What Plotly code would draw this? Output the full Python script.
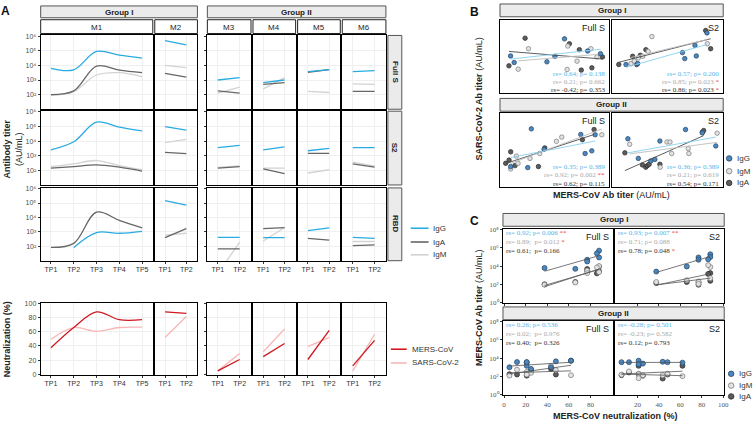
import numpy as np
import plotly.graph_objects as go

W, H = 755, 426
SANS = "Liberation Sans"
SERIF = "Liberation Serif"

# ---------------- Panel A data (antibody titers, AU/mL) ----------------
TP_M1 = ["TP1", "TP2", "TP3", "TP4", "TP5"]
TP_OTHER = ["TP1", "TP2"]
MICE = ["M1", "M2", "M3", "M4", "M5", "M6"]
ANTIGENS = ["Full S", "S2", "RBD"]

fullS_IgG = {"M1": [6300, 5000, 90000, 50000, 32000], "M2": [500000, 250000], "M3": [1000, 1450],
             "M4": [660, 1000], "M5": [3700, 5200], "M6": [3700, 4400]}
fullS_IgA = {"M1": [100, 180, 9000, 4800, 3200], "M2": [2800, 1600], "M3": [180, 125],
             "M4": [500, 660], "M5": [3300, 5200], "M6": [165, 165]}
fullS_IgM = {"M1": [90, 160, 2200, 3200, 1700], "M2": [10000, 7000], "M3": [125, 320],
             "M4": [250, 1450], "M5": [165, 140], "M6": [550, 500]}

S2_IgG = {"M1": [2500, 9000, 200000, 90000, 50000], "M2": [100000, 56000], "M3": [3600, 5200],
          "M4": [2500, 4000], "M5": [2200, 3200], "M6": [3600, 3600]}
S2_IgA = {"M1": [140, 180, 240, 165, 90], "M2": [1700, 1400], "M3": [140, 180],
          "M4": [125, 60], "M5": [1450, 1450], "M6": [275, 165]}
S2_IgM = {"M1": [180, 280, 470, 210, 110], "M2": [8000, 13000], "M3": [160, 200],
          "M4": [140, 140], "M5": [66, 110], "M6": [360, 195]}

RBD_IgG = {"M1": [None, 83, 900, 800, 1100], "M2": [145000, 72000], "M3": [420, 420],
           "M4": [400, 400], "M5": [1200, 1900], "M6": [420, 355]}
RBD_IgA = {"M1": [83, 160, 23000, 6300, 1900], "M2": [400, 1700], "M3": [66, 66],
           "M4": [1700, 2000], "M5": [355, 270], "M6": [112, 125]}
RBD_IgM = {"M1": [None, None, None, None, None], "M2": [600, 800], "M3": [1.3, 190],
           "M4": [235, 2000], "M5": [None, None], "M6": [215, 215]}

# neutralization (%)
neut_MERS = {"M1": [37.5, 66, 88, 77, 77], "M2": [88, 86], "M3": [5, 21],
             "M4": [25, 43.5], "M5": [21, 62], "M6": [12, 48]}
neut_SARS = {"M1": [49.5, 66, 60.6, 66, 66.5], "M2": [52, 81.5], "M3": [5, 29.6],
             "M4": [32, 64], "M5": [39, 52], "M6": [5, 56.5]}

# ---------------- Panel B data (relative positions, arbitrary units) ----------------
b_g1_fullS_x = {"IgG": [9.7, 13.0, 43.0, 50.3, 59.1, 80.3, 92.1],
                "IgM": [16.7, 26.1, 61.5, 62.1, 70.6, 83.3, 88.8],
                "IgA": [8.2, 23.0, 63.6, 72.7, 74.5, 84.2, 93.9]}
b_g1_fullS_y = {"IgG": [50.9, 42.0, 42.9, 50.4, 74.1, 57.6, 54.0],
                "IgM": [33.0, 60.7, 32.6, 64.3, 43.8, 60.7, 49.6],
                "IgA": [37.5, 75.0, 67.4, 59.4, 31.7, 34.8, 49.6]}
b_g1_S2_x = {"IgG": [12.5, 23.0, 63.3, 65.4, 74.6, 75.8, 85.4],
             "IgM": [17.0, 20.0, 23.6, 27.5, 32.5, 35.8, 85.7],
             "IgA": [6.0, 18.5, 22.1, 25.4, 30.4, 84.2, 88.7]}
b_g1_S2_y = {"IgG": [39.3, 40.6, 55.4, 47.3, 65.2, 50.9, 82.1],
             "IgM": [40.6, 44.0, 48.2, 50.4, 57.1, 77.2, 67.4],
             "IgA": [39.3, 50.4, 39.3, 51.8, 59.4, 85.3, 60.7]}
b_g2_fullS_x = {"IgG": [9.8, 25.4, 28.7, 40.4, 74.0, 78.0, 84.1, 87.2],
                "IgM": [9.8, 15.0, 16.5, 27.5, 36.4, 51.7, 56.6, 93.3],
                "IgA": [5.2, 8.3, 9.8, 13.8, 35.2, 41.0, 75.5, 86.2]}
b_g2_fullS_y = {"IgG": [27.6, 26.2, 78.7, 51.1, 71.1, 45.3, 48.9, 70.7],
                "IgM": [24.4, 41.8, 32.0, 38.7, 45.3, 61.8, 67.6, 70.7],
                "IgA": [32.0, 36.4, 47.6, 28.9, 27.6, 52.9, 64.0, 77.8]}
b_g2_S2_x = {"IgG": [14.2, 23.6, 34.8, 38.5, 43.0, 66.1, 81.2, 93.3],
             "IgM": [15.8, 43.3, 49.4, 52.1, 53.6, 68.5, 69.1, 94.5],
             "IgA": [11.5, 27.3, 30.3, 31.8, 33.3, 43.0, 81.2, 82.4]}
b_g2_S2_y = {"IgG": [65.3, 38.7, 35.1, 37.3, 62.2, 77.8, 73.3, 55.6],
             "IgM": [57.8, 26.7, 60.9, 60.9, 45.3, 52.0, 45.3, 72.9],
             "IgA": [46.2, 29.8, 26.7, 28.9, 30.7, 30.7, 74.2, 76.4]}

b_g1_fullS_stats = ["rs= 0.64; p= 0.138", "rs= 0.21; p= 0.662", "rs= -0.42; p= 0.353"]
b_g1_fullS_sig = ["", "", ""]
b_g1_S2_stats = ["rs= 0.57; p= 0.200", "rs= 0.85; p= 0.023", "rs= 0.86; p= 0.023"]
b_g1_S2_sig = ["", "*", "*"]
b_g2_fullS_stats = ["rs= 0.35; p= 0.389", "rs= 0.92; p= 0.002", "rs= 0.62; p= 0.115"]
b_g2_fullS_sig = ["", "**", ""]
b_g2_S2_stats = ["rs= 0.36; p= 0.389", "rs= 0.21; p= 0.619", "rs= 0.54; p= 0.171"]
b_g2_S2_sig = ["", "", ""]

c_g1_fullS_stats = ["rs= 0.92; p= 0.006", "rs= 0.89;  p= 0.012", "rs= 0.61;  p= 0.166"]
c_g1_fullS_sig = ["**", "*", ""]
c_g1_S2_stats = ["rs= 0.93; p= 0.007", "rs= 0.71; p= 0.088", "rs= 0.78; p= 0.048"]
c_g1_S2_sig = ["**", "", "*"]
c_g2_fullS_stats = ["rs= 0.26; p= 0.536", "rs= 0.02;  p= 0.976", "rs= 0.40;  p= 0.326"]
c_g2_fullS_sig = ["", "", ""]
c_g2_S2_stats = ["rs= -0.28; p= 0.501", "rs= -0.23; p= 0.582", "rs= 0.12; p= 0.793"]
c_g2_S2_sig = ["", "", ""]

# ---------------- styling ----------------
C_LINE = {"IgG": "#29abe2", "IgA": "#666666", "IgM": "#d2d2d2"}
C_MERS, C_SARS = "#cf1820", "#f7b7b7"
PT_FILL = {"IgG": "#4b88c2", "IgM": "#e2e2e2", "IgA": "#5c5c5c"}
PT_EDGE = {"IgG": "#24425f", "IgM": "#7a7a7a", "IgA": "#2b2b2b"}
FIT_B = {"IgG": "#86d0ee", "IgM": "#bdbdbd", "IgA": "#4a4a4a"}
STAT_C = {"IgG": "#56b4e9", "IgM": "#a9a9a9", "IgA": "#333333"}
STAR_C = "#e8473f"
GRID = "#efefef"
STRIP_FILL = "#ebebeb"
SUPS = {0: "\u2070", 2: "\u00b2", 3: "\u00b3", 4: "\u2074", 5: "\u2075", 6: "\u2076", 8: "\u2078"}

layout = dict(width=W, height=H, margin=dict(l=0, r=0, t=0, b=0),
              paper_bgcolor="white", plot_bgcolor="white", showlegend=False,
              font=dict(family=SANS, color="#222", size=8), shapes=[], annotations=[])
traces = []
_n = [0]


def new_axes(px0, px1, py0, py1, xkw, ykw):
    _n[0] += 1
    s = "" if _n[0] == 1 else str(_n[0])
    base = dict(showline=True, mirror=True, linecolor="black", linewidth=1,
                zeroline=False, showgrid=False, ticks="", showticklabels=False, fixedrange=True)
    xa = dict(base, domain=[px0 / W, px1 / W], anchor="y" + s)
    xa.update(xkw)
    ya = dict(base, domain=[1 - py1 / H, 1 - py0 / H], anchor="x" + s)
    ya.update(ykw)
    layout["xaxis" + s] = xa
    layout["yaxis" + s] = ya
    return "x" + s, "y" + s


def text(px, py, s, size=8, color="#222", xanchor="center", yanchor="middle", angle=0, family=SANS):
    layout["annotations"].append(dict(x=px / W, y=1 - py / H, xref="paper", yref="paper", text=s,
                                      showarrow=False, font=dict(size=size, color=color, family=family),
                                      xanchor=xanchor, yanchor=yanchor, textangle=angle, borderpad=0))


def rect(px0, py0, px1, py1, fill, line="#555", lw=1):
    layout["shapes"].append(dict(type="rect", xref="paper", yref="paper", x0=px0 / W, x1=px1 / W,
                                 y0=1 - py1 / H, y1=1 - py0 / H, fillcolor=fill,
                                 line=dict(color=line, width=lw), layer="above"))


def hline(px0, px1, py, color, width):
    layout["shapes"].append(dict(type="line", xref="paper", yref="paper", x0=px0 / W, x1=px1 / W,
                                 y0=1 - py / H, y1=1 - py / H, line=dict(color=color, width=width)))


def dot(px, py, fill, edge, r=2.6):
    layout["shapes"].append(dict(type="circle", xref="paper", yref="paper", x0=(px - r) / W, x1=(px + r) / W,
                                 y0=1 - (py + r) / H, y1=1 - (py - r) / H, fillcolor=fill,
                                 line=dict(color=edge, width=0.8)))


def sup(e):
    return "10" + SUPS[e]


# ================= PANEL A =================
A_cols = {"M1": (40, 153), "M2": (155, 198), "M3": (208, 252), "M4": (254, 297), "M5": (299, 342), "M6": (344, 388)}
A_rows = {"Full S": (33, 108), "S2": (110, 185), "RBD": (188, 262)}
A_neut = (305, 378)
A_data = {"Full S": {"IgG": fullS_IgG, "IgA": fullS_IgA, "IgM": fullS_IgM},
          "S2": {"IgG": S2_IgG, "IgA": S2_IgA, "IgM": S2_IgM},
          "RBD": {"IgG": RBD_IgG, "IgA": RBD_IgA, "IgM": RBD_IgM}}

TPFONT = dict(size=7, color="#333", family=SANS)
YFONT = dict(size=7, color="#4d4d4d", family=SANS)

for ant in ANTIGENS:
    r0, r1 = A_rows[ant]
    for m in MICE:
        c0, c1 = A_cols[m]
        cats = TP_M1 if m == "M1" else TP_OTHER
        xs = list(range(len(cats)))
        xr = [-0.45, 4.47] if m == "M1" else [-0.48, 1.52]
        bottom = ant == "RBD"
        xa = dict(range=xr, tickvals=xs, ticktext=cats, showticklabels=bottom, showgrid=True,
                  gridcolor=GRID, gridwidth=0.6, ticks="outside" if bottom else "", ticklen=2,
                  tickcolor="#333", tickfont=TPFONT)
        ya = dict(type="log", range=[1, 6.05], tickvals=[10 ** e for e in range(2, 7)],
                  ticktext=[sup(e) for e in range(2, 7)], showticklabels=(m == "M1"), showgrid=True,
                  gridcolor=GRID, gridwidth=0.6, ticks="outside" if m in ("M1", "M3") else "",
                  ticklen=2, tickcolor="#333", tickfont=YFONT)
        xa_id, ya_id = new_axes(c0, c1, r0, r1, xa, ya)
        for iso in ["IgM", "IgA", "IgG"]:
            traces.append(go.Scatter(x=xs, y=A_data[ant][iso][m], mode="lines", xaxis=xa_id, yaxis=ya_id,
                                     line=dict(color=C_LINE[iso], width=1.3,
                                               shape="spline" if m == "M1" else "linear", smoothing=1.0),
                                     hoverinfo="skip"))

for m in MICE:
    c0, c1 = A_cols[m]
    cats = TP_M1 if m == "M1" else TP_OTHER
    xs = list(range(len(cats)))
    xr = [-0.45, 4.47] if m == "M1" else [-0.48, 1.52]
    xa = dict(range=xr, tickvals=xs, ticktext=cats, showticklabels=True, showgrid=True, gridcolor=GRID,
              gridwidth=0.6, ticks="outside", ticklen=2, tickcolor="#333", tickfont=TPFONT)
    ya = dict(range=[-0.5, 100.5], tickvals=[0, 20, 40, 60, 80, 100], showticklabels=(m == "M1"),
              showgrid=True, gridcolor=GRID, gridwidth=0.6, ticks="outside" if m in ("M1", "M3") else "",
              ticklen=2, tickcolor="#333", tickfont=dict(size=7, color="#4d4d4d", family=SANS))
    xa_id, ya_id = new_axes(c0, c1, A_neut[0], A_neut[1], xa, ya)
    for vals, col in [(neut_SARS, C_SARS), (neut_MERS, C_MERS)]:
        traces.append(go.Scatter(x=xs, y=vals[m], mode="lines", xaxis=xa_id, yaxis=ya_id,
                                 line=dict(color=col, width=1.3, shape="spline" if m == "M1" else "linear"),
                                 hoverinfo="skip"))

# strips A
rect(40, 3, 198, 15, STRIP_FILL, "#555")
text(119, 9.5, "<b>Group I</b>", 8)
rect(208, 3, 388, 15, STRIP_FILL, "#555")
text(298, 9.5, "<b>Group II</b>", 8)
for m in MICE:
    c0, c1 = A_cols[m]
    rect(c0, 17, c1, 31, "white", "#222")
    text((c0 + c1) / 2, 24.5, m, 8)
for ant in ANTIGENS:
    r0, r1 = A_rows[ant]
    rect(390, r0, 404, r1, STRIP_FILL, "#555")
    text(397.5, (r0 + r1) / 2, "<b>%s</b>" % ant, 8, angle=90)

text(5, 8, "<b>A</b>", 12, color="#111")
text(12, 148, "<b>Antibody titer</b><br>(AU/mL)", 9, angle=-90)
text(6, 342, "<b>Neutralization (%)</b>", 9, angle=-90)

for iso, py in [("IgG", 229), ("IgA", 243), ("IgM", 256)]:
    hline(413, 431, py, C_LINE[iso], 1.6)
    text(434, py, iso, 8, color="#333", xanchor="left")
for lab, col, py in [("MERS-CoV", C_MERS, 352), ("SARS-CoV-2", C_SARS, 366)]:
    hline(393, 409, py, col, 1.6)
    text(413, py, lab, 8, color="#333", xanchor="left")


# ================= PANEL B =================
def star_text(s, sig):
    return s + (" <span style='color:%s'>%s</span>" % (STAR_C, sig) if sig else "")


B_panels = [
    ((503, 613, 17, 92), b_g1_fullS_x, b_g1_fullS_y, "Full S", b_g1_fullS_stats, b_g1_fullS_sig),
    ((616, 728, 17, 92), b_g1_S2_x, b_g1_S2_y, "S2", b_g1_S2_stats, b_g1_S2_sig),
    ((503, 613, 112, 187), b_g2_fullS_x, b_g2_fullS_y, "Full S", b_g2_fullS_stats, b_g2_fullS_sig),
    ((616, 728, 112, 187), b_g2_S2_x, b_g2_S2_y, "S2", b_g2_S2_stats, b_g2_S2_sig),
]
for (x0, x1, y0, y1), bx, by, lab, stats, sig in B_panels:
    xa_id, ya_id = new_axes(x0, x1, y0, y1, dict(range=[0, 100]), dict(range=[0, 100]))
    for iso in ["IgA", "IgM", "IgG"]:
        traces.append(go.Scatter(x=bx[iso], y=by[iso], mode="markers", xaxis=xa_id, yaxis=ya_id,
                                 marker=dict(size=4.5, color=PT_FILL[iso], line=dict(color=PT_EDGE[iso], width=0.7)),
                                 hoverinfo="skip"))
    for iso in ["IgA", "IgM", "IgG"]:
        xv = np.array(bx[iso]); yv = np.array(by[iso])
        a, b = np.polyfit(xv, yv, 1)
        xl = np.array([xv.min(), xv.max()])
        traces.append(go.Scatter(x=xl, y=a * xl + b, mode="lines", xaxis=xa_id, yaxis=ya_id,
                                 line=dict(color=FIT_B[iso], width=0.9), hoverinfo="skip"))
    text(x1 - 3, y0 + 8, lab, 9, color="#222", xanchor="right")
    for k, iso in enumerate(["IgG", "IgM", "IgA"]):
        text(x1 - 3, y1 - 20 + k * 8.3, star_text(stats[k], sig[k]), 7, color=STAT_C[iso],
             xanchor="right", family=SERIF)

rect(503, 1, 728, 14, STRIP_FILL, "#555")
text(615.5, 7.5, "<b>Group I</b>", 8)
rect(503, 97, 728, 110, STRIP_FILL, "#555")
text(615.5, 103.5, "<b>Group II</b>", 8)
text(477, 9, "<b>B</b>", 12, color="#111")
text(482, 98, "<b>SARS-CoV-2 Ab titer</b> (AU/mL)", 9, angle=-90)
text(615, 195, "<b>MERS-CoV Ab titer</b> (AU/mL)", 9)
for iso, py in [("IgG", 158), ("IgM", 171), ("IgA", 183)]:
    dot(734, py, PT_FILL[iso], PT_EDGE[iso], 2.8)
    text(741, py, iso, 8, color="#333", xanchor="left")

# ================= PANEL C (built from panel A data) =================
C_groups = {"Group I": ["M1", "M2"], "Group II": ["M3", "M4", "M5", "M6"]}
C_panels = [
    ("Group I", "Full S", (506, 617, 230, 305), c_g1_fullS_stats, c_g1_fullS_sig),
    ("Group I", "S2", (619, 729, 230, 305), c_g1_S2_stats, c_g1_S2_sig),
    ("Group II", "Full S", (506, 617, 323, 399), c_g2_fullS_stats, c_g2_fullS_sig),
    ("Group II", "S2", (619, 729, 323, 399), c_g2_S2_stats, c_g2_S2_sig),
]
CX_FONT = dict(size=7, color="#555", family=SERIF)
for grp, ant, (x0, x1, y0, y1), stats, sig in C_panels:
    bottom = grp == "Group II"
    left = ant == "Full S"
    xt = [0, 20, 40, 60, 80] if left else [20, 40, 60, 80, 100]
    xa = dict(range=[-1, 101], tickvals=xt, ticktext=[str(v) for v in xt], showticklabels=bottom,
              ticks="outside", ticklen=2, tickcolor="#333", tickfont=CX_FONT)
    ya = dict(type="log", range=[-0.05, 8.05], tickvals=[10 ** e for e in (0, 2, 4, 6, 8)],
              ticktext=[sup(e) for e in (0, 2, 4, 6, 8)], showticklabels=left,
              ticks="outside" if left else "", ticklen=2, tickcolor="#333",
              tickfont=dict(size=7, color="#555", family=SERIF))
    xa_id, ya_id = new_axes(x0, x1, y0, y1, xa, ya)
    nx = [v for m in C_groups[grp] for v in neut_MERS[m]]
    for iso in ["IgA", "IgM", "IgG"]:
        yy = [v for m in C_groups[grp] for v in A_data[ant][iso][m]]
        traces.append(go.Scatter(x=nx, y=yy, mode="markers", xaxis=xa_id, yaxis=ya_id,
                                 marker=dict(size=5, color=PT_FILL[iso], line=dict(color=PT_EDGE[iso], width=0.7)),
                                 hoverinfo="skip"))
    for iso in ["IgA", "IgM", "IgG"]:
        yy = np.log10(np.array([v for m in C_groups[grp] for v in A_data[ant][iso][m]], dtype=float))
        xv = np.array(nx, dtype=float)
        a, b = np.polyfit(xv, yy, 1)
        xl = np.array([xv.min(), xv.max()])
        traces.append(go.Scatter(x=xl, y=10 ** (a * xl + b), mode="lines", xaxis=xa_id, yaxis=ya_id,
                                 line=dict(color="#555555", width=0.8), hoverinfo="skip"))
    text(x1 - 3, y0 + 8, ant, 9, color="#222", xanchor="right")
    for k, iso in enumerate(["IgG", "IgM", "IgA"]):
        text(x0 + 2, y0 + 4 + k * 9.2, star_text(stats[k], sig[k]), 7, color=STAT_C[iso],
             xanchor="left", family=SERIF)

rect(506, 214, 729, 227, STRIP_FILL, "#555")
text(617.5, 220.5, "<b>Group I</b>", 8)
rect(506, 309, 729, 322, STRIP_FILL, "#555")
text(617.5, 315.5, "<b>Group II</b>", 8)
text(477, 222, "<b>C</b>", 12, color="#111")
text(482, 310, "<b>MERS-CoV Ab titer</b> (AU/mL)", 9, angle=-90)
text(619, 420, "<b>MERS-CoV neutralization (%)</b>", 9)
for iso, py in [("IgG", 377), ("IgM", 389), ("IgA", 400)]:
    dot(736, py, PT_FILL[iso], PT_EDGE[iso], 2.8)
    text(743, py, iso, 8, color="#333", xanchor="left")

fig = go.Figure(data=traces, layout=layout)
fig.write_html("out.html")
